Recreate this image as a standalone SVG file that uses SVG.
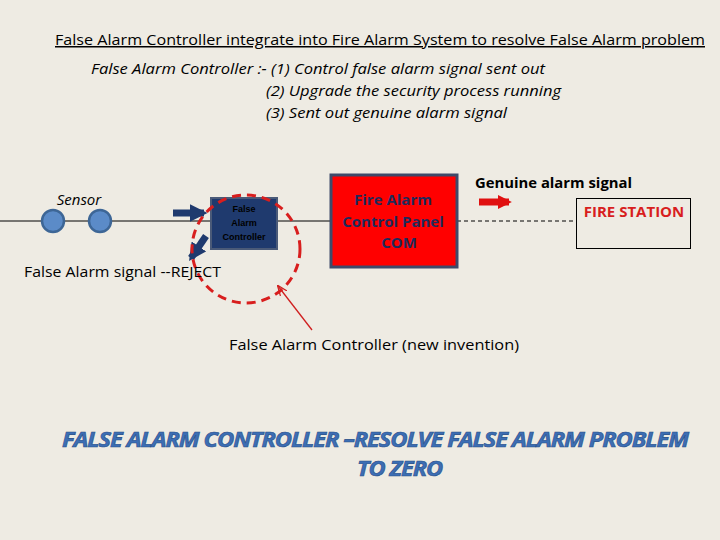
<svg xmlns="http://www.w3.org/2000/svg" width="720" height="540" viewBox="0 0 720 540">
<style>
.t{font-family:"Open Sans","Liberation Sans",sans-serif;fill:#000}
</style>
<defs>
<marker id="ab" viewBox="0 0 10 10" refX="8" refY="5" markerWidth="2.5" markerHeight="2.5" orient="auto"><path d="M0,0L10,5L0,10z" fill="#1F3A6E"/></marker>
<marker id="ar" viewBox="0 0 10 10" refX="8" refY="5" markerWidth="2" markerHeight="2" orient="auto"><path d="M0,0L10,5L0,10z" fill="#E01010"/></marker>
<marker id="ap" viewBox="0 0 10 10" refX="9" refY="5" markerWidth="8" markerHeight="8" orient="auto"><path d="M0,1L10,5L0,9" fill="none" stroke="#D02020" stroke-width="1.2"/></marker>
</defs>
<rect width="720" height="540" fill="#EEEBE3"/>
<text class="t" x="55" y="45" font-size="15" textLength="650" lengthAdjust="spacingAndGlyphs" text-decoration="underline">False Alarm Controller integrate into Fire Alarm System to resolve False Alarm problem</text>
<g class="t" font-size="15" font-style="italic">
<text x="91" y="74" textLength="454" lengthAdjust="spacingAndGlyphs">False Alarm Controller :- (1) Control false alarm signal sent out</text>
<text x="266" y="96" textLength="295" lengthAdjust="spacingAndGlyphs">(2) Upgrade the security process running</text>
<text x="266" y="118" textLength="241" lengthAdjust="spacingAndGlyphs">(3) Sent out genuine alarm signal</text>
</g>
<g id="connectors">
<line x1="0" y1="221" x2="330" y2="221" stroke="#000" stroke-width="1"/>
<line x1="457" y1="221" x2="577" y2="221" stroke="#000" stroke-width="1" stroke-dasharray="4,3"/>
<line x1="173" y1="213" x2="204" y2="213" stroke="#1F3A6E" stroke-width="7" marker-end="url(#ab)"/>
<line x1="206" y1="236" x2="191" y2="258" stroke="#1F3A6E" stroke-width="7" marker-end="url(#ab)"/>
<line x1="479" y1="202" x2="509" y2="202" stroke="#E01010" stroke-width="7" marker-end="url(#ar)"/>
<line x1="312" y1="330" x2="278" y2="286" stroke="#D02020" stroke-width="1.3" marker-end="url(#ap)"/>
</g>
<g id="sensor">
<circle cx="53" cy="221" r="11" fill="#5B8BC8" stroke="#3D6696" stroke-width="2.5"/>
<circle cx="100" cy="221" r="11" fill="#5B8BC8" stroke="#3D6696" stroke-width="2.5"/>
<text class="t" x="79" y="205" text-anchor="middle" font-size="15" font-style="italic">Sensor</text>
</g>
<g id="fac">
<rect x="211" y="198" width="66" height="51" fill="#1F3A6E" stroke="#4A5A78" stroke-width="2"/>
<g font-family="Liberation Sans,sans-serif" font-size="9" font-weight="bold" fill="#000" text-anchor="middle">
<text x="244" y="212">False</text><text x="244" y="226">Alarm</text><text x="244" y="240">Controller</text></g>
<circle cx="246" cy="249" r="54" fill="none" stroke="#D81E1E" stroke-width="3" stroke-dasharray="9,6"/>
</g>
<g id="panel">
<rect x="331" y="175" width="126" height="92" fill="#FF0000" stroke="#3E4A6A" stroke-width="3"/>
<g class="t" font-size="15" font-weight="bold" text-anchor="middle" style="fill:#1F2A5A">
<text x="393" y="205">Fire Alarm</text><text x="393" y="227">Control Panel</text><text x="399" y="248">COM</text></g>
</g>
<g id="station">
<rect x="576.5" y="198.5" width="114" height="50" fill="none" stroke="#000" stroke-width="1"/>
<text class="t" x="634" y="217" text-anchor="middle" font-size="15" font-weight="bold" style="fill:#D81E1E">FIRE STATION</text>
</g>
<text class="t" x="475" y="188" font-size="15" font-weight="bold" textLength="157" lengthAdjust="spacingAndGlyphs">Genuine alarm signal</text>
<text class="t" x="24" y="277" font-size="15" textLength="197" lengthAdjust="spacingAndGlyphs">False Alarm signal --REJECT</text>
<text class="t" x="229" y="350" font-size="15" textLength="290" lengthAdjust="spacingAndGlyphs">False Alarm Controller (new invention)</text>
<g font-family="Open Sans,Liberation Sans,sans-serif" font-size="22" font-weight="bold" font-style="italic" fill="#3C6EB4" stroke="#2A4F8A" stroke-width="0.6" letter-spacing="-1">
<text x="62" y="447" textLength="626" lengthAdjust="spacingAndGlyphs">FALSE ALARM CONTROLLER –RESOLVE FALSE ALARM PROBLEM</text>
<text x="357" y="476" textLength="85" lengthAdjust="spacingAndGlyphs">TO ZERO</text>
</g>
</svg>
